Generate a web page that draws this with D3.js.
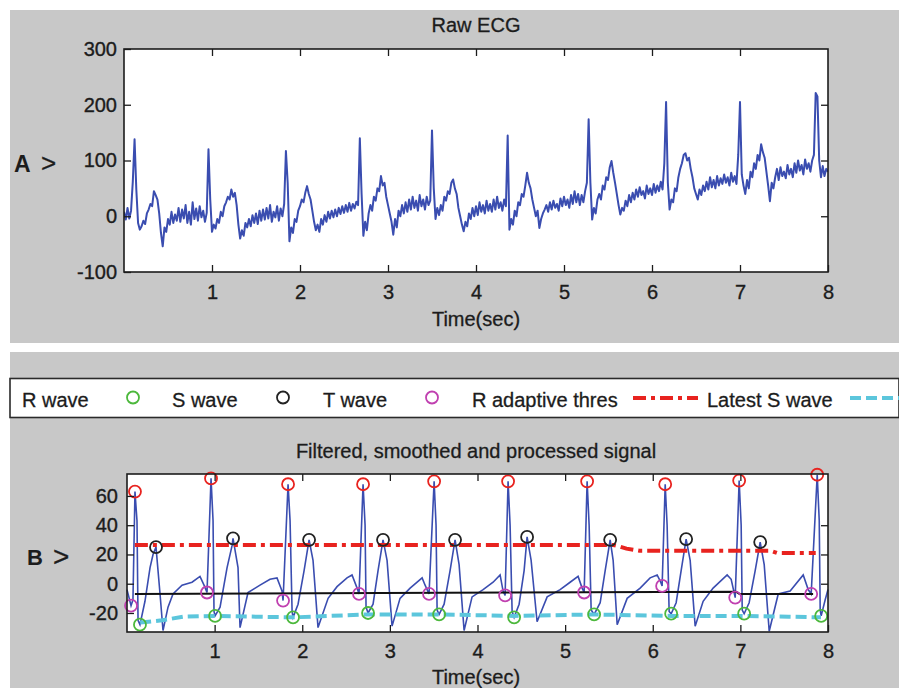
<!DOCTYPE html>
<html>
<head>
<meta charset="utf-8">
<script src="https://cdn.jsdelivr.net/npm/d3@7"></script>
<style>
  body { margin: 0; background: #fff; }
  svg { display: block; font-family: "Liberation Sans", Arial, sans-serif; }
</style>
</head>
<body>
<svg id="fig" width="899" height="688"></svg>
<script>
// ---- data ----
// panel A: raw ECG, one value every 0.02 s from 0 to 8 s
const rawStep = 0.02;
const rawECG = [
  8,-6,15,-4,10,62,138,48,-12,-24,
  -18,-8,-14,5,12,22,18,45,38,30,
  5,-30,-54,-20,-28,-5,-15,8,-12,3,
  -8,15,-10,12,-4,20,-12,8,-15,25,
  -5,14,-8,18,-2,10,-10,6,120,30,
  -28,-15,-22,-5,-12,8,0,18,25,35,
  30,48,35,42,20,-15,-40,-25,-35,-12,
  -20,-5,-18,2,-12,5,-14,10,-8,12,
  -6,15,-4,20,-10,8,-2,18,-8,14,
  0,22,117,60,-45,-20,-30,-5,-10,10,
  18,30,25,42,54,40,30,10,-10,-25,
  -15,-28,-5,-15,2,-10,8,-4,10,-2,
  12,0,15,4,18,6,20,8,24,10,
  22,14,26,20,140,40,-35,-10,-25,5,
  20,10,35,28,50,45,72,55,60,35,
  20,5,-10,-33,-5,-20,10,0,20,5,
  25,8,30,12,35,15,28,10,38,18,
  30,12,35,20,28,154,50,-5,15,2,
  20,10,35,28,45,40,60,66,50,40,
  15,0,-15,-27,-10,-18,5,-5,15,0,
  18,2,25,8,20,5,28,10,22,8,
  30,12,35,15,25,10,30,18,145,-24,
  -5,-15,10,0,25,20,40,35,55,78,
  60,50,30,15,0,10,-21,-5,5,12,
  20,8,25,12,28,15,22,10,32,18,
  35,20,30,15,38,22,45,25,40,20,
  38,25,45,60,174,60,-6,15,5,30,
  40,30,55,48,70,65,88,99,78,60,
  40,20,3,15,10,28,18,38,25,42,
  30,48,35,52,38,45,32,55,40,50,
  38,58,42,55,45,62,48,95,205,60,
  12,30,25,50,45,70,85,95,110,113,
  100,105,85,70,50,40,30,48,38,55,
  45,62,48,70,52,65,50,72,55,68,
  58,75,60,70,55,78,62,72,58,110,
  205,75,55,40,65,50,80,70,95,85,
  110,100,129,115,105,80,55,27,60,50,
  70,85,65,88,72,80,68,92,75,85,
  70,95,78,100,82,92,75,102,85,95,
  80,100,110,221,215,100,70,90,72,85,
  80
];

// panel B: filtered signal (time, value)
const filtT = [
  0.000,0.046,0.068,0.091,0.114,0.126,0.148,0.205,0.263,0.297,0.331,0.377,0.411,0.468,0.525,0.628,0.742,0.833,0.879,0.913,
  0.959,0.982,0.993,1.005,1.062,1.142,1.199,1.210,1.267,1.290,1.381,1.518,1.632,1.712,1.769,1.781,
  1.838,1.861,1.884,1.895,1.952,2.021,2.078,2.123,2.180,2.295,2.397,2.511,2.568,2.626,2.648,
  2.694,2.717,2.728,2.751,2.808,2.865,2.922,2.968,3.025,3.116,3.231,3.368,3.402,3.447,
  3.505,3.527,3.539,3.562,3.619,3.687,3.744,3.790,3.847,3.938,4.064,4.178,4.258,4.292,4.315,
  4.349,4.372,4.395,4.418,4.475,4.532,4.566,4.612,4.680,4.795,4.943,5.057,5.148,5.194,5.217,
  5.251,5.274,5.297,5.331,5.400,5.457,5.514,5.548,5.594,5.708,5.856,5.970,6.050,6.084,6.107,
  6.142,6.164,6.187,6.210,6.267,6.324,6.381,6.427,6.484,6.575,6.689,6.849,6.895,6.941,
  6.986,7.009,7.021,7.043,7.100,7.169,7.226,7.272,7.329,7.432,7.568,7.717,7.774,7.808,
  7.877,7.900,7.911,7.922,7.968,8.000
];
const filtV = [
  -4,-15,-11,63,43,-25,-28,-12,11,20,25,-7,-32,-16,-7,-1,1,5,-1,-6,
  72,43,-19,-22,-16,11,26,31,11,-30,-6,-1,3,4,-5,-11.5,
  68,43,-19,-23,-14,9,30,16,-30,-10,-2,4,6,-3,-7,
  68,40,-16,-20,-14,9,30,16,-29,-10,-3,4,-1,-7,
  70,40,-18,-21,-14,9,30,13,-32,-9,-4,1,6,-5,-8,
  70,40,-19,-23,-14,9,32,16,-26,-9,-4,1,5,-3,-6,
  70,40,-18,-21,-13,9,30,16,-28,-10,-3,4,6,2,-1.5,
  68,40,-19,-20.5,-13,9,30.5,16,-29,-12,-3,6,3,-9.5,
  70.5,40,-18,-20.5,-13,9,28.5,13,-32.5,-7,-5,6,-4,-7,
  74.5,43,-18,-22,-11,-4
];

// detected points
const rWaveT = [0.091,0.959,1.838,2.694,3.505,4.349,5.251,6.142,6.986,7.877];
const rWaveV = [63,72,68,68,70,70,70,68,70.5,74.5];
const sWaveT = [0.148,1.005,1.895,2.751,3.562,4.418,5.331,6.210,7.043,7.922];
const sWaveV = [-28,-22,-23,-20,-21,-23,-21,-20.5,-20.5,-22];
const tWaveT = [0.331,1.210,2.078,2.922,3.744,4.566,5.514,6.381,7.226];
const tWaveV = [25,31,30,30,30,32,30,30.5,28.5];
const qWaveT = [0.046,0.913,1.781,2.648,3.447,4.315,5.217,6.107,6.941,7.808];
const qWaveV = [-15,-6,-11.5,-7,-7,-8,-6,-1.5,-9.5,-7];

// threshold lines
const thresT = [0.09,5.55,5.62,5.70,5.85,7.35,7.42,7.86];
const thresV = [26.5,26.5,25.5,24,22.5,22.5,21,21];
const latestST = [0.15,0.40,0.65,1.0,1.9,2.75,3.56,4.42,5.33,6.21,7.04,7.55,7.92];
const latestSV = [-26.5,-25,-22.5,-22,-23,-21,-21,-22,-21,-22,-22,-22.5,-23];
const baseT = [0.09,6.95,6.99,7.83];
const baseV = [-7,-5.5,-7,-7];

const xTicks = [1,2,3,4,5,6,7,8];
const yTicksA = [-100,0,100,200,300];
const yTicksB = [-20,0,20,40,60];

const legendItems = [
  { label: 'R wave', x: 22 },
  { label: 'S wave', x: 172, marker: '#4cb83c', mx: 133 },
  { label: 'T wave', x: 323, marker: '#222222', mx: 283 },
  { label: 'R adaptive thres', x: 472, marker: '#c040b0', mx: 432 },
  { label: 'Latest S wave', x: 707, line: 'red', lx: [633, 698] },
  { label: '', x: 0, line: 'cyan', lx: [850, 899] }
];

// ---- drawing ----
const GRAY = '#c8c8c8';
const BLUE = '#3a4db0';
const RED = '#e8231f';
const CYAN = '#5cc6dc';
const INK = '#1c1c1c';
const FONT = '"Liberation Sans", Arial, sans-serif';

const svg = d3.select('#fig');
svg.append('rect').attr('x', 10).attr('y', 10).attr('width', 889).attr('height', 333).attr('fill', GRAY);
svg.append('rect').attr('x', 10).attr('y', 352).attr('width', 889).attr('height', 336).attr('fill', GRAY);

function drawAxes(x, y, yTicks, xPad, yPad) {
  const [x0, x1] = x.range();
  const [y0, y1] = y.range();
  const g = svg.append('g');
  const styleAxis = sel => {
    sel.select('.domain').remove();
    sel.attr('font-size', 20).attr('font-family', FONT).attr('color', INK);
    sel.selectAll('text').attr('stroke', INK).attr('stroke-width', 0.35);
    sel.selectAll('line').attr('stroke-width', 1.3);
  };
  const fmt = d => String(d);
  g.append('g').attr('transform', `translate(0,${y0})`)
    .call(d3.axisBottom(x).tickValues(xTicks).tickSize(-7).tickSizeOuter(0).tickPadding(xPad).tickFormat(fmt))
    .call(styleAxis);
  g.append('g').attr('transform', `translate(0,${y1})`)
    .call(d3.axisTop(x).tickValues(xTicks.slice(0, -1)).tickSize(-7).tickSizeOuter(0).tickFormat(''))
    .call(styleAxis);
  g.append('g').attr('transform', `translate(${x0},0)`)
    .call(d3.axisLeft(y).tickValues(yTicks).tickSize(-7).tickSizeOuter(0).tickPadding(yPad).tickFormat(fmt))
    .call(styleAxis);
  g.append('g').attr('transform', `translate(${x1},0)`)
    .call(d3.axisRight(y).tickValues(yTicks.slice(1, -1)).tickSize(-7).tickSizeOuter(0).tickFormat(''))
    .call(styleAxis);
  svg.append('rect').attr('x', x0).attr('y', y1).attr('width', x1 - x0).attr('height', y0 - y1)
    .attr('fill', 'none').attr('stroke', INK).attr('stroke-width', 1.6);
}

function plotArea(x, y, id) {
  const [x0, x1] = x.range();
  const [y0, y1] = y.range();
  svg.append('rect').attr('x', x0).attr('y', y1).attr('width', x1 - x0).attr('height', y0 - y1).attr('fill', '#fff');
  svg.append('clipPath').attr('id', id).append('rect')
    .attr('x', x0).attr('y', y1 - 8).attr('width', x1 - x0).attr('height', y0 - y1 + 16);
}

function text(str, x, y, size, opts = {}) {
  svg.append('text').attr('x', x).attr('y', y).attr('font-size', size)
    .attr('font-family', FONT).attr('fill', INK)
    .attr('stroke', opts.bold ? 'none' : INK).attr('stroke-width', 0.3)
    .attr('text-anchor', opts.anchor || 'start')
    .attr('font-weight', opts.bold ? 'bold' : 'normal')
    .text(str);
}

// ---- panel A ----
const xA = d3.scaleLinear().domain([0, 8]).range([124, 828]);
const yA = d3.scaleLinear().domain([-100, 300]).range([272, 49]);
plotArea(xA, yA, 'clipA');
svg.append('path')
  .datum(rawECG)
  .attr('clip-path', 'url(#clipA)')
  .attr('fill', 'none').attr('stroke', BLUE).attr('stroke-width', 2)
  .attr('stroke-linejoin', 'round')
  .attr('d', d3.line().x((d, i) => xA(i * rawStep)).y(d => yA(d)));
drawAxes(xA, yA, yTicksA, 13, 7);
text('Raw ECG', 476, 32, 20, { anchor: 'middle' });
text('Time(sec)', 476, 326, 20, { anchor: 'middle' });
text('A', 14, 172, 23, { bold: true });
text('>', 41, 172, 26);

// ---- legend strip ----
svg.append('rect').attr('x', 10).attr('y', 378.5).attr('width', 889).attr('height', 39)
  .attr('fill', '#fff').attr('stroke', '#2a2a2a').attr('stroke-width', 1.6);
legendItems.forEach(item => {
  if (item.label) text(item.label, item.x, 407, 20);
  if (item.marker) {
    svg.append('circle').attr('cx', item.mx).attr('cy', 397.5).attr('r', 6)
      .attr('fill', 'none').attr('stroke', item.marker).attr('stroke-width', 1.8);
  }
  if (item.line) {
    svg.append('line').attr('x1', item.lx[0]).attr('x2', item.lx[1]).attr('y1', 398).attr('y2', 398)
      .attr('stroke', item.line === 'red' ? RED : CYAN).attr('stroke-width', 4)
      .attr('stroke-dasharray', item.line === 'red' ? '13,5,4,5' : '11,5');
  }
});

// ---- panel B ----
const xB = d3.scaleLinear().domain([0, 8]).range([127, 828]);
const yB = d3.scaleLinear().domain([-33, 75]).range([632, 474]);
plotArea(xB, yB, 'clipB');

const lineB = d3.line().x(d => xB(d[0])).y(d => yB(d[1]));
const zip = (a, b) => a.map((t, i) => [t, b[i]]);

svg.append('path').datum(zip(filtT, filtV))
  .attr('fill', 'none').attr('stroke', BLUE).attr('stroke-width', 1.6).attr('d', lineB);
svg.append('path').datum(zip(baseT, baseV))
  .attr('fill', 'none').attr('stroke', '#111').attr('stroke-width', 2).attr('d', lineB);
svg.append('path').datum(zip(latestST, latestSV))
  .attr('fill', 'none').attr('stroke', CYAN).attr('stroke-width', 4)
  .attr('stroke-dasharray', '11,5').attr('d', lineB);
svg.append('path').datum(zip(thresT, thresV))
  .attr('fill', 'none').attr('stroke', RED).attr('stroke-width', 4)
  .attr('stroke-dasharray', '13,5,4,5').attr('d', lineB);

function markers(ts, vs, color) {
  svg.append('g').selectAll('circle').data(zip(ts, vs)).join('circle')
    .attr('cx', d => xB(d[0])).attr('cy', d => yB(d[1])).attr('r', 6)
    .attr('fill', 'none').attr('stroke', color).attr('stroke-width', 1.8);
}
markers(rWaveT, rWaveV, RED);
markers(sWaveT, sWaveV, '#4cb83c');
markers(tWaveT, tWaveV, '#222222');
markers(qWaveT, qWaveV, '#c040b0');

drawAxes(xB, yB, yTicksB, 12, 9);
text('Filtered, smoothed and processed signal', 476, 458, 20, { anchor: 'middle' });
text('Time(sec)', 476, 684, 20, { anchor: 'middle' });
text('B', 27, 565, 22, { bold: true });
text('>', 53, 566, 28);
</script>
</body>
</html>
